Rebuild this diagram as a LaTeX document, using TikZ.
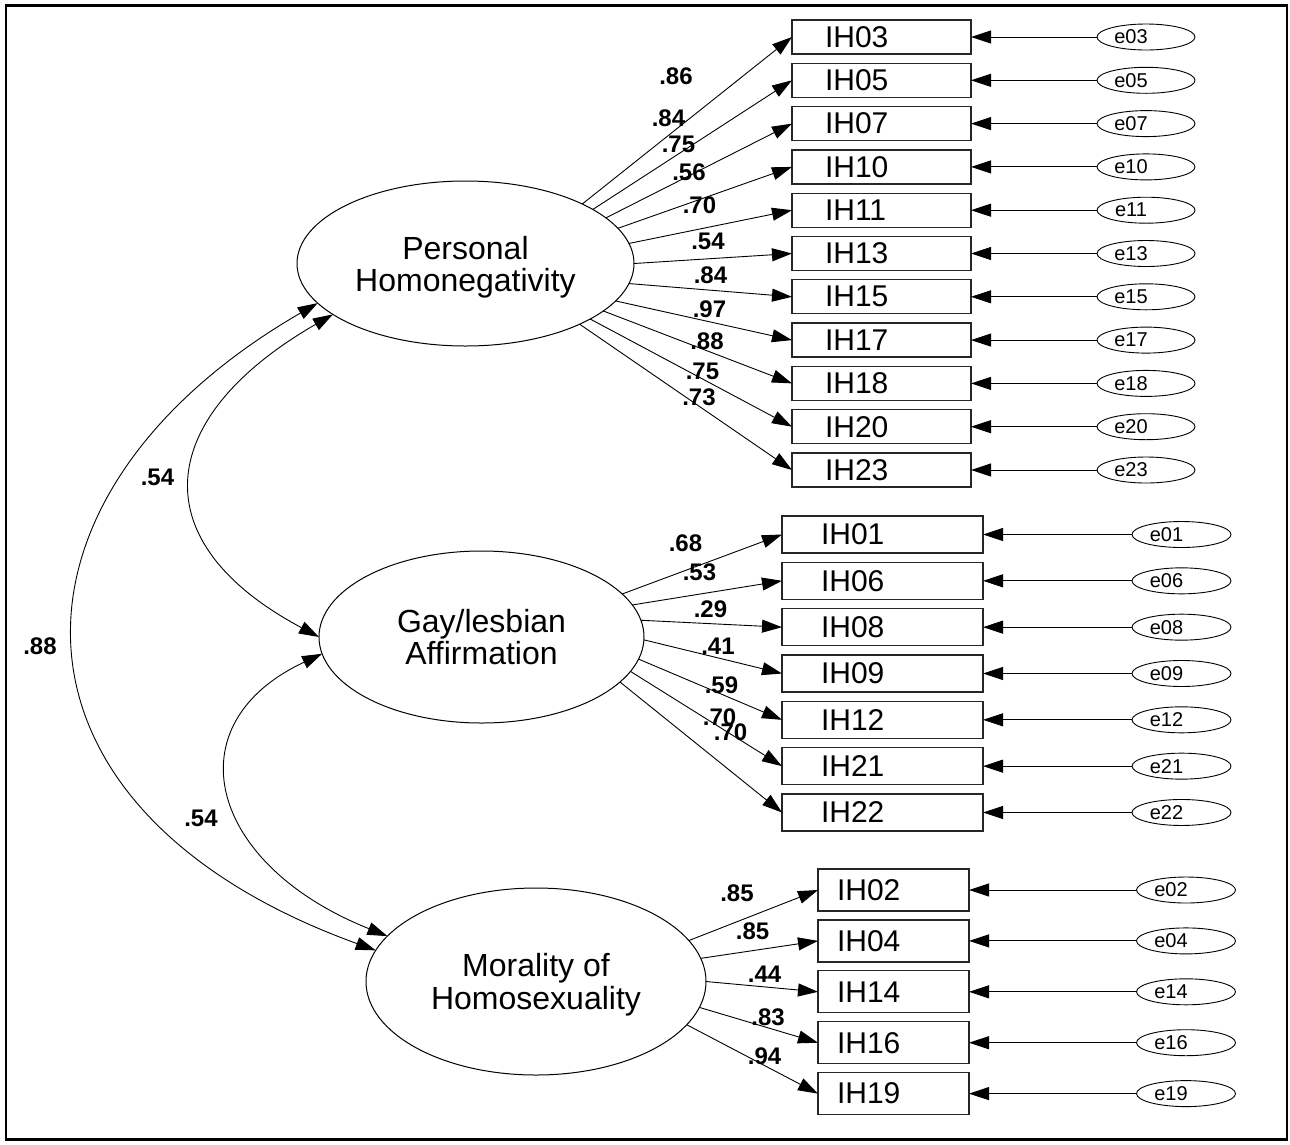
\documentclass[tikz,border=0pt]{standalone}
\usepackage{fontspec}
\setmainfont{Liberation Sans}
\usetikzlibrary{arrows.meta,shapes.geometric}
\begin{document}
\begin{tikzpicture}[x=1pt,y=-1pt,
  lat/.style={ellipse, draw, line width=1pt, inner sep=0pt, outer sep=0pt, align=center,
    font=\fontsize{32}{32}\selectfont, text depth=-5pt},
  obsA/.style={rectangle, draw=black!85, line width=1.3pt, inner ysep=0pt, outer sep=0pt,
    inner xsep=33pt, text width=113pt, minimum height=34pt, align=left, font=\fontsize{30}{30}\selectfont},
  obsB/.style={obsA, inner xsep=39pt, text width=123pt, minimum height=37pt},
  obsC/.style={obsA, inner xsep=19pt, text width=113pt, minimum height=42pt},
  err/.style={ellipse, draw, line width=0.9pt, inner sep=0pt, outer sep=0pt,
    minimum width=98pt, minimum height=26pt, font=\fontsize{20}{20}\selectfont},
  ld/.style={line width=0.9pt, -{Triangle[length=20pt,width=13pt]}},
  cov/.style={line width=0.9pt, {Triangle[length=20pt,width=13pt]}-{Triangle[length=20pt,width=13pt]}},
  lab/.style={inner sep=0pt, font=\bfseries\fontsize{24}{24}\selectfont}
]
\useasboundingbox (0,0) rectangle (1290,1144);
\draw[line width=2.3pt] (6,5.5) rectangle (1287,1139.5);

% latent variables
\node[lat, minimum width=337pt, minimum height=165pt] (ph) at (465.5,263.5) {Personal\\Homonegativity};
\node[lat, minimum width=325pt, minimum height=172pt, text depth=-8pt] (ga) at (481.5,637) {Gay/lesbian\\Affirmation};
\node[lat, minimum width=340pt, minimum height=187pt, font=\fontsize{32}{33}\selectfont] (mh) at (536,981.5) {Morality of\\Homosexuality};

% group 1
\foreach \n/\a [count=\i from 0] in {03/27,05/23,07/18,10/13,11/7,13/0,15/353,17/346,18/341,20/336,23/332}{
  \node[obsA] (IH\n) at (881.5,{37+43.3*\i}) {IH\n};
  \node[err] (e\n) at (1146,{37+43.3*\i}) {e\n\hspace*{30pt}};
  \draw[ld] (e\n.west) -- (IH\n.east);
  \draw[ld] (ph.\a) -- (IH\n.west);
}
% group 2
\foreach \n/\a [count=\i from 0] in {01/17,06/12,08/6,09/359,12/352,21/347,22/342}{
  \node[obsB] (IH\n) at (882.5,{534.5+46.33*\i}) {IH\n};
  \node[err, minimum width=99pt] (e\n) at (1181.5,{534.5+46.33*\i}) {e\n\hspace*{30pt}};
  \draw[ld] (e\n.west) -- (IH\n.east);
  \draw[ld] (ga.\a) -- (IH\n.west);
}
% group 3
\foreach \n/\a [count=\i from 0] in {02/15,04/8,14/0,16/351,19/344}{
  \node[obsC] (IH\n) at (893.5,{890+50.9*\i}) {IH\n};
  \node[err, minimum width=99pt] (e\n) at (1186,{890+50.9*\i}) {e\n\hspace*{30pt}};
  \draw[ld] (e\n.west) -- (IH\n.east);
  \draw[ld] (mh.\a) -- (IH\n.west);
}

% covariances
\draw[cov] (ph.195) .. controls +(-329,190) and +(-395,-143) .. (mh.169);
\draw[cov] (ph.201) .. controls +(-177,102) and +(-180,-96) .. (ga.180);
\draw[cov] (ga.186) .. controls +(-150,70) and +(-180,-72) .. (mh.163);

% coefficient labels
\foreach \lv/\x/\y [count=\k] in {
  .86/676/76.5, .84/668.5/118, .75/678.5/144, .56/689/172.5, .70/699.5/205, .54/708/241.5,
  .84/710.5/275.5, .97/709.5/309, .88/707/341, .75/702.5/371, .73/699/397.5,
  .68/685.5/543, .53/699.5/572.5, .29/710.5/609.5, .41/718/646, .59/721.5/685.5,
  .70/719.5/717.5, .70/730.5/732.5,
  .85/737/893, .85/752.5/931, .44/764.5/974, .83/768/1017.5, .94/764.5/1056.5,
  .54/157.5/477, .88/40/646.5, .54/201/818}{
  \node[lab] (lab\k) at (\x,\y) {\lv};
}
\end{tikzpicture}
\end{document}
